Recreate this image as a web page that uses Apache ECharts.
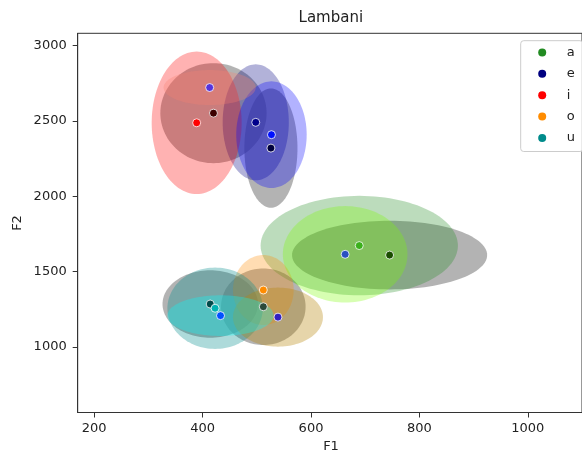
<!DOCTYPE html>
<html>
<head>
<meta charset="utf-8">
<script src="https://cdn.jsdelivr.net/npm/echarts@6/dist/echarts.min.js"></script>
<style>html,body{margin:0;padding:0;background:#fff;}#c{width:582px;height:454px;}</style>
</head>
<body>
<div id="c"></div>
<script>
// ---- data ----
const vowels = ['a', 'e', 'i', 'o', 'u'];
// group A (vowel-coloured ellipses): centre and half-axes
const f1A = [689, 498, 389, 512, 423];
const f2A = [1673, 2491, 2488, 1378, 1257];
const rF1A = [182, 61, 83, 56, 88];
const rF2A = [330, 385, 473, 232, 270];
// group B (grey ellipses)
const f1B = [745, 526, 420, 512, 414];
const f2B = [1610, 2320, 2552, 1267, 1285];
const rF1B = [180, 49, 98, 78, 88];
const rF2B = [228, 396, 332, 254, 224];
// group C (light ellipses)
const f1C = [663, 527, 413, 539, 433];
const f2C = [1615, 2409, 2722, 1198, 1208];
const rF1C = [115, 65, 85, 83, 98];
const rF2C = [320, 354, 116, 196, 135];
// ticks
const xTicks = [200, 400, 600, 800, 1000];
const yTicks = [1000, 1500, 2000, 2500, 3000];

// ---- styles ----
const legendColors = ['#228b22', '#000080', '#ff0000', '#ff8c00', '#008b8b'];
const fillA = ['rgba(34,139,34,0.3)', 'rgba(0,0,128,0.3)', 'rgba(255,0,0,0.3)', 'rgba(255,140,0,0.3)', 'rgba(0,139,139,0.32)'];
const fillB = 'rgba(128,128,128,0.6)';
const fillC = ['rgba(124,252,0,0.3)', 'rgba(0,0,255,0.3)', 'rgba(250,128,114,0.3)', 'rgba(184,134,11,0.35)', 'rgba(0,255,255,0.3)'];
const dotA = ['#3cb01c', '#00008b', '#ff0000', '#ff8c00', '#00b2b2'];
const dotB = ['#1a4d00', '#00003c', '#3c0000', '#2b4a3a', '#004a4a'];
const dotC = ['#2a4fc0', '#0010ff', '#5533dd', '#3322c0', '#0050ff'];
const FONT = '"DejaVu Sans", sans-serif';

function ellipseSeries(f1, f2, r1, r2, fills) {
  return {
    type: 'custom',
    coordinateSystem: 'cartesian2d',
    silent: true,
    encode: { x: 0, y: 1 },
    data: f1.map((v, i) => [v, f2[i], r1[i], r2[i]]),
    renderItem: function (params, api) {
      const c = api.coord([api.value(0), api.value(1)]);
      const s = api.size([api.value(2), api.value(3)]);
      const pts = [];
      const n = 120;
      for (let k = 0; k < n; k++) {
        const t = 2 * Math.PI * k / n;
        pts.push([c[0] + s[0] * Math.cos(t), c[1] + s[1] * Math.sin(t)]);
      }
      const fill = Array.isArray(fills) ? fills[params.dataIndex] : fills;
      return { type: 'polygon', shape: { points: pts }, style: { fill: fill, stroke: null } };
    }
  };
}
function dotSeries(f1, f2, colors) {
  return {
    type: 'scatter',
    symbol: 'circle',
    symbolSize: 8,
    silent: true,
    data: f1.map((v, i) => ({ value: [v, f2[i]], itemStyle: { color: colors[i] } })),
    itemStyle: { borderColor: '#ffffff', borderWidth: 0.8, opacity: 1 }
  };
}

const legendSeries = vowels.map((v, i) => ({
  name: v, type: 'scatter', data: [], itemStyle: { color: legendColors[i], opacity: 1 }
}));

const plain = v => String(v);

const chart = echarts.init(document.getElementById('c'), null, { renderer: 'canvas' });
chart.setOption({
  animation: false,
  backgroundColor: '#ffffff',
  grid: {
    left: 77.7, top: 33.3, right: -2, bottom: 41.5,
    show: true, borderColor: '#333', borderWidth: 1, backgroundColor: '#fff'
  },
  xAxis: {
    type: 'value', min: 169.5, max: 1100,
    splitLine: { show: false },
    axisLine: { show: true, lineStyle: { color: '#333', width: 1 } },
    axisTick: { show: true, length: 5, lineStyle: { color: '#333' }, customValues: xTicks },
    axisLabel: { customValues: xTicks, formatter: plain, margin: 10, color: '#222', fontFamily: 'DejaVu Sans', fontSize: 13 }
  },
  yAxis: {
    type: 'value', min: 565, max: 3082,
    splitLine: { show: false },
    axisLine: { show: true, lineStyle: { color: '#333', width: 1 } },
    axisTick: { show: true, length: 5, lineStyle: { color: '#333' }, customValues: yTicks },
    axisLabel: { customValues: yTicks, formatter: plain, margin: 11, color: '#222', fontFamily: 'DejaVu Sans', fontSize: 13 }
  },
  legend: {
    data: vowels.map((v, i) => ({ name: v, itemStyle: { color: legendColors[i], opacity: 1 } })),
    orient: 'vertical',
    left: 520.7, top: 40.7,
    icon: 'circle',
    itemWidth: 33, itemHeight: 8, itemGap: 8.4,
    padding: [5.2, 8, 7, 17.5],
    selectedMode: false,
    backgroundColor: 'rgba(255,255,255,0.8)',
    borderColor: '#cccccc', borderWidth: 1, borderRadius: 3,
    textStyle: { fontFamily: 'DejaVu Sans', fontSize: 13, color: '#222', lineHeight: 13, padding: [0, 0, 0, 3] }
  },
  graphic: [
    { type: 'text', x: 330.8, y: 18.3, silent: true,
      style: { text: 'Lambani', font: '15px ' + FONT, fill: '#222', align: 'center', verticalAlign: 'middle' } },
    { type: 'text', x: 331, y: 447, silent: true,
      style: { text: 'F1', font: '13px ' + FONT, fill: '#222', align: 'center', verticalAlign: 'middle' } },
    { type: 'text', x: 17.5, y: 223, rotation: Math.PI / 2, silent: true,
      style: { text: 'F2', font: '13px ' + FONT, fill: '#222', align: 'center', verticalAlign: 'middle' } }
  ],
  series: [
    ellipseSeries(f1B, f2B, rF1B, rF2B, fillB),
    ellipseSeries(f1A, f2A, rF1A, rF2A, fillA),
    ellipseSeries(f1C, f2C, rF1C, rF2C, fillC),
    dotSeries(f1B, f2B, dotB),
    dotSeries(f1A, f2A, dotA),
    dotSeries(f1C, f2C, dotC)
  ].concat(legendSeries)
});
</script>
</body>
</html>
